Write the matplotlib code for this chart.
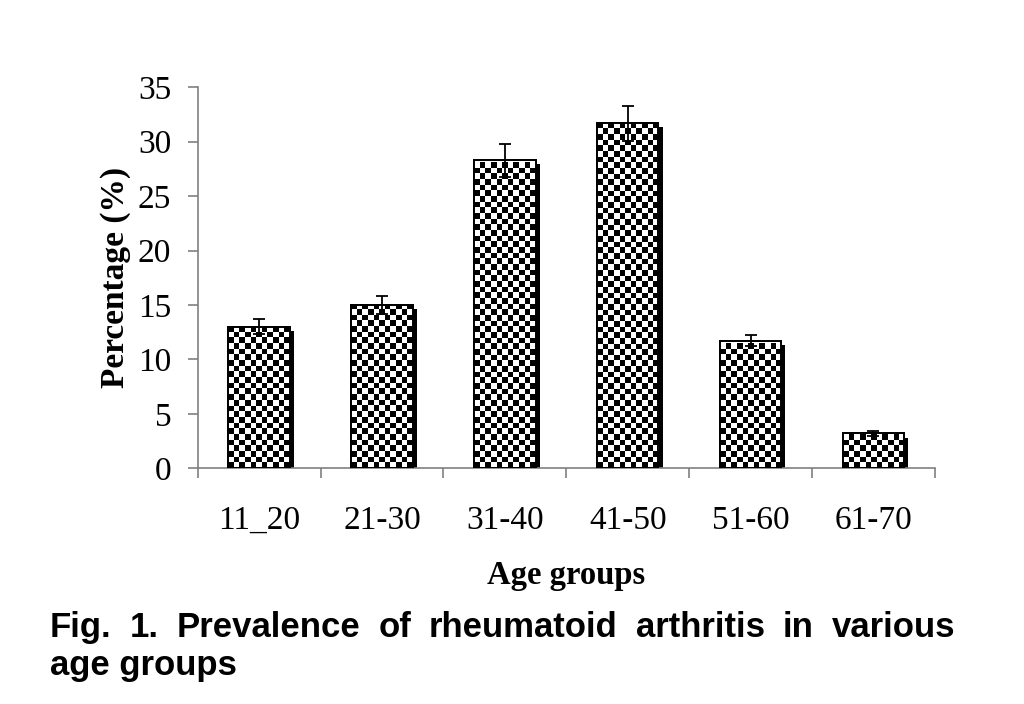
import numpy as np
import matplotlib
matplotlib.use("Agg")
import matplotlib.pyplot as plt
import matplotlib.patheffects as pe

# данные
groups = ['11_20', '21-30', '31-40', '41-50', '51-60', '61-70']
percent = [13.0, 15.0, 28.3, 31.7, 11.7, 3.2]
errors = [0.7, 0.8, 1.5, 1.6, 0.5, 0.2]
caption_line1 = ['Fig.', '1.', 'Prevalence', 'of', 'rheumatoid', 'arthritis', 'in', 'various']
caption_line2 = 'age groups'

serif = 'Liberation Serif'
sans = 'Liberation Sans'
grey = '#808080'

fig = plt.figure(figsize=(10.24, 7.04), dpi=100)
ax = fig.add_axes([0.193, 0.335, 0.72, 0.541])

x = np.arange(len(groups))
width = 0.5
shadow = [pe.SimplePatchShadow(offset=(3, -3), shadow_rgbFace='black', alpha=1.0), pe.Normal()]

bars = ax.bar(x, percent, width, color='white', edgecolor='black', linewidth=1.2,
              zorder=2, path_effects=shadow)

# шахматная заливка
ncols = 11
cell_h = 0.52
for b in bars:
    x0, w, h = b.get_x(), b.get_width(), b.get_height()
    nrows = max(1, int(round(h / cell_h)))
    board = (np.add.outer(np.arange(nrows), np.arange(ncols)) % 2).astype(float)
    im = ax.imshow(board, cmap='gray', extent=(x0, x0 + w, 0, nrows * cell_h),
                   origin='lower', interpolation='nearest', aspect='auto', zorder=2.5)
    im.set_clip_path(b)

ax.bar(x, percent, width, fill=False, edgecolor='black', linewidth=1.4, zorder=3)
ax.errorbar(x, percent, yerr=errors, fmt='none', ecolor='black', elinewidth=1.3,
            capsize=4, capthick=1.3, zorder=4)

ax.set_xlim(-0.5, len(groups) - 0.5)
ax.set_ylim(0, 35)
ax.set_yticks(range(0, 36, 5))
ax.set_xticks(np.arange(-0.5, len(groups), 1.0))
ax.set_xticklabels([])
ax.set_xticks(x, minor=True)
ax.set_xticklabels(groups, minor=True)

for s in ['top', 'right']:
    ax.spines[s].set_visible(False)
for s in ['left', 'bottom']:
    ax.spines[s].set_color(grey)
    ax.spines[s].set_linewidth(1.2)

ax.tick_params(axis='both', which='major', direction='out', length=7, width=1.2, color=grey)
ax.tick_params(axis='y', labelsize=24, pad=12)
ax.tick_params(axis='x', which='minor', length=0, labelsize=24, pad=27)
for lab in ax.get_yticklabels() + ax.get_xticklabels(minor=True):
    lab.set_fontfamily(serif)

ax.set_ylabel('Percentage (%)', fontsize=24, fontweight='bold', family=serif, labelpad=5)
ax.set_xlabel('Age groups', fontsize=23.5, fontweight='bold', family=serif, labelpad=17)

# подпись, выровненная по ширине
fig.canvas.draw()
renderer = fig.canvas.get_renderer()
left_px, right_px = 50, 955
y1 = 1 - 637 / 704
texts = [fig.text(0, y1, w, fontsize=25, fontweight='bold', family=sans, va='baseline')
         for w in caption_line1]
widths = [t.get_window_extent(renderer).width for t in texts]
gap = (right_px - left_px - sum(widths)) / (len(texts) - 1)
pos = left_px
for t, w in zip(texts, widths):
    t.set_x(pos / 1024)
    pos += w + gap
fig.text(left_px / 1024, 1 - 675 / 704, caption_line2, fontsize=25, fontweight='bold',
         family=sans, va='baseline')

fig.savefig('out.png', dpi=100)
